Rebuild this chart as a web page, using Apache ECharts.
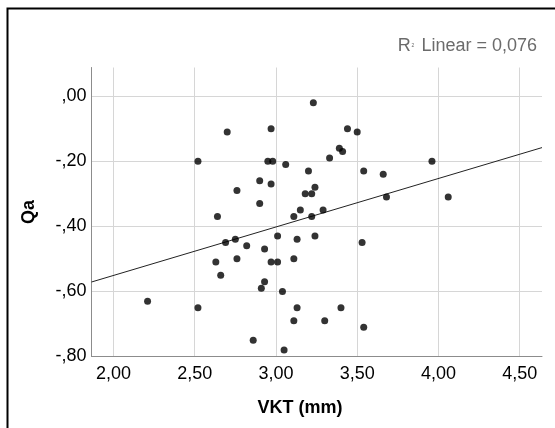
<!DOCTYPE html>
<html>
<head>
<meta charset="utf-8">
<script src="https://cdn.jsdelivr.net/npm/echarts@6/dist/echarts.min.js"></script>
<style>html,body{margin:0;padding:0;background:#fff;}#c{width:555px;height:428px;}</style>
</head>
<body>
<div id="c"></div>
<script>
const vkt = [3.23,2.70,2.97,2.52,2.95,2.98,3.06,3.20,2.90,2.97,2.76,3.24,3.18,3.22,2.90,2.64,3.11,3.15,3.22,
  3.44,3.50,3.39,3.41,3.33,3.96,3.54,3.66,3.68,4.06,3.29,3.24,2.75,2.69,2.82,2.93,3.01,3.13,2.63,2.76,2.97,
  3.01,3.11,2.66,2.93,2.91,3.04,2.21,2.52,3.13,3.11,2.86,3.05,3.53,3.40,3.30,3.54];
const qa = [-0.02,-0.11,-0.10,-0.20,-0.20,-0.20,-0.21,-0.23,-0.26,-0.27,-0.29,-0.28,-0.30,-0.30,-0.33,-0.37,-0.37,-0.35,-0.37,
  -0.10,-0.11,-0.16,-0.17,-0.19,-0.20,-0.23,-0.24,-0.31,-0.31,-0.35,-0.43,-0.44,-0.45,-0.46,-0.47,-0.43,-0.44,-0.51,-0.50,-0.51,
  -0.51,-0.50,-0.55,-0.57,-0.59,-0.60,-0.63,-0.65,-0.65,-0.69,-0.75,-0.78,-0.45,-0.65,-0.69,-0.71];
const xTicks = [2.00,2.50,3.00,3.50,4.00,4.50];
const yTicks = [-0.80,-0.60,-0.40,-0.20,0.00];
const xRange = [1.865,4.637];
const yRange = [-0.80,0.088];
const fitIntercept = -0.849;
const fitSlope = 0.149;
const rSquared = '0,076';
const xTitle = 'VKT (mm)';
const yTitle = 'Qa';

const pts = vkt.map((v,i)=>[v,qa[i]]);
const fitLine = xRange.map(x=>[x, fitIntercept + fitSlope*x]);
const fmtX = v => v.toFixed(2).replace('.',',');
const fmtY = v => { let s = Math.abs(v).toFixed(2).replace('.',',').replace(/^0/,''); return (v < -1e-9 ? '-' : '') + s; };
const font = 'Liberation Sans';

const chart = echarts.init(document.getElementById('c'), null, {renderer:'canvas'});
chart.setOption({
  animation:false,
  backgroundColor:'#fff',
  textStyle:{fontFamily:font},
  graphic:[
    {type:'rect', left:5, top:6, shape:{width:620, height:500}, style:{fill:'none', stroke:'#000', lineWidth:2}, z:10},
    {type:'text', right:18, top:37, style:{
      text:'{r|R}{s|2}{r| Linear = ' + rSquared + '}',
      rich:{r:{fontSize:18, fill:'#6b6b6b', fontFamily:font}, s:{fontSize:5, fill:'#6b6b6b', fontFamily:font, padding:[0,2,0,1]}}
    }},
    {type:'text', x:300, y:408, style:{text:xTitle, fontSize:18, fontWeight:'bold', fill:'#000', fontFamily:font, align:'center', verticalAlign:'middle'}},
    {type:'text', x:29, y:212, rotation:Math.PI/2, style:{text:yTitle, fontSize:18, fontWeight:'bold', fill:'#000', fontFamily:font, align:'center', verticalAlign:'middle'}}
  ],
  grid:{left:91.5, right:13, top:67.5, bottom:71.5, containLabel:false},
  xAxis:{type:'value', min:xRange[0], max:xRange[1],
    axisLine:{show:true, onZero:false, lineStyle:{color:'#8c8c8c', width:1}},
    axisTick:{show:false, customValues:xTicks},
    axisLabel:{customValues:xTicks, formatter:fmtX, color:'#000', fontSize:18, margin:9, fontFamily:font},
    splitLine:{show:true, lineStyle:{color:'#d6d6d6', width:1}}
  },
  yAxis:{type:'value', min:yRange[0], max:yRange[1],
    axisLine:{show:true, onZero:false, lineStyle:{color:'#8c8c8c', width:1}},
    axisTick:{show:false, customValues:yTicks},
    axisLabel:{customValues:yTicks, formatter:fmtY, color:'#000', fontSize:18, margin:5, fontFamily:font},
    splitLine:{show:true, lineStyle:{color:'#d6d6d6', width:1}}
  },
  series:[
    {type:'line', data:fitLine, symbol:'none', lineStyle:{color:'#222', width:1}, z:2, silent:true},
    {type:'scatter', data:pts, symbol:'circle', symbolSize:7, itemStyle:{color:'#000'}, z:3}
  ]
});
</script>
</body>
</html>
